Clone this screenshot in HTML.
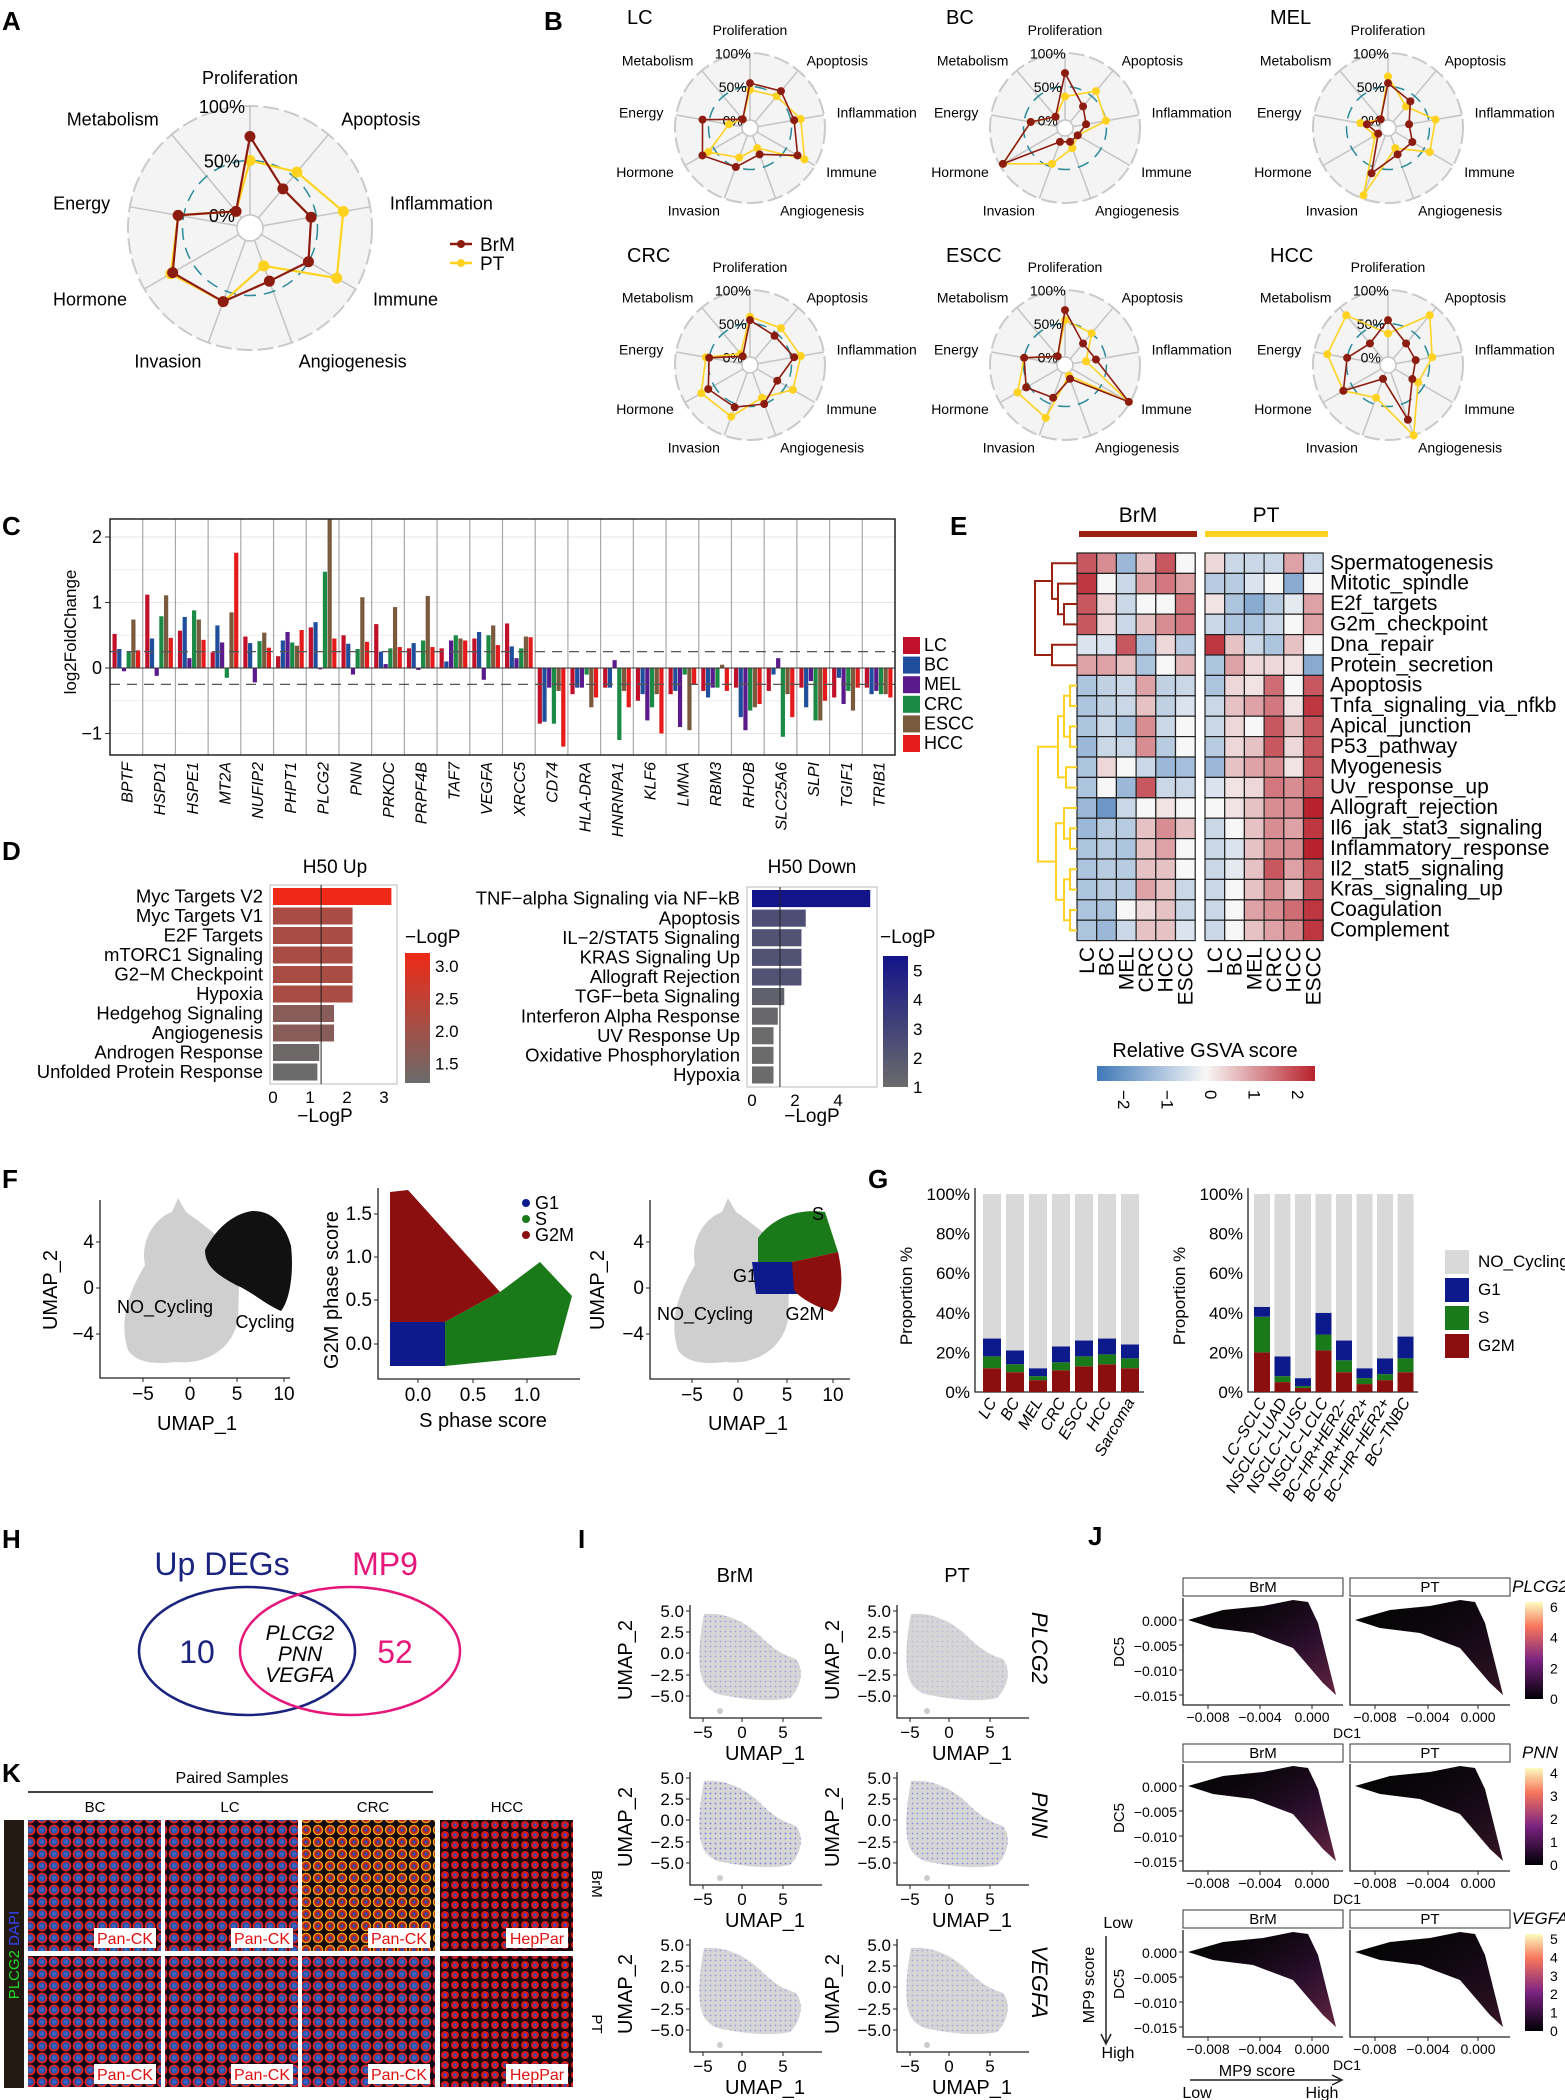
<!DOCTYPE html>
<html><head><meta charset="utf-8">
<style>
body{margin:0;background:#fff;}
svg{display:block;font-family:"Liberation Sans",Arial,sans-serif;}
.n{font-family:"Liberation Sans Narrow","Liberation Sans",sans-serif;}
.pl{font-size:26px;font-weight:bold;}
</style></head>
<body>
<svg id="fig" width="1565" height="2100" viewBox="0 0 1565 2100">
<defs>
<linearGradient id="gsva" x1="0" x2="1" y1="0" y2="0"><stop offset="0" stop-color="#3f78b8"/><stop offset="0.5" stop-color="#f7f7f7"/><stop offset="1" stop-color="#b8222c"/></linearGradient>
<linearGradient id="upbar" x1="0" x2="0" y1="1" y2="0"><stop offset="0" stop-color="#6b6b6b"/><stop offset="1" stop-color="#ee2a16"/></linearGradient>
<linearGradient id="dnbar" x1="0" x2="0" y1="1" y2="0"><stop offset="0" stop-color="#6b6b6b"/><stop offset="1" stop-color="#14148a"/></linearGradient>
<linearGradient id="magma" x1="0" x2="0" y1="1" y2="0"><stop offset="0" stop-color="#000004"/><stop offset="0.4" stop-color="#7b2382"/><stop offset="0.75" stop-color="#f8765c"/><stop offset="1" stop-color="#fcfdbf"/></linearGradient>
<linearGradient id="jfill" x1="0" x2="1" y1="0" y2="1"><stop offset="0" stop-color="#000" stop-opacity="0"/><stop offset="0.6" stop-color="#7b2382" stop-opacity="0.3"/><stop offset="1" stop-color="#e0508a" stop-opacity="0.45"/></linearGradient>
<pattern id="tis" width="12" height="12" patternUnits="userSpaceOnUse"><rect width="12" height="12" fill="#120a1c"/><circle cx="6" cy="6" r="4.6" fill="#2c4fa6" stroke="#e3221c" stroke-width="1.6"/><circle cx="6" cy="6" r="1.8" fill="#3b66c8"/></pattern>
<pattern id="tisY" width="12" height="12" patternUnits="userSpaceOnUse"><rect width="12" height="12" fill="#150a10"/><circle cx="6" cy="6" r="4.6" fill="#b8281c" stroke="#f0a018" stroke-width="1.3"/><circle cx="6" cy="6" r="1.8" fill="#2b4ba8"/></pattern>
<pattern id="hep" width="10" height="10" patternUnits="userSpaceOnUse"><rect width="10" height="10" fill="#1a0810"/><circle cx="5" cy="5" r="4" fill="#d21a1a"/><circle cx="5" cy="5" r="1.6" fill="#3050c0"/></pattern>
<pattern id="bdots" width="5" height="5" patternUnits="userSpaceOnUse"><circle cx="2.5" cy="2.5" r="0.9" fill="#5a5ae0"/></pattern>
</defs>

<text class="pl" x="2" y="30">A</text>
<text class="pl" x="544" y="30">B</text>
<text class="pl" x="2" y="535">C</text>
<text class="pl" x="950" y="535">E</text>
<text class="pl" x="2" y="860">D</text>
<text class="pl" x="2" y="1188">F</text>
<text class="pl" x="868" y="1188">G</text>
<text class="pl" x="2" y="1548">H</text>
<text class="pl" x="578" y="1548">I</text>
<text class="pl" x="1088" y="1545">J</text>
<text class="pl" x="2" y="1782">K</text>

<g class="n" font-size="20">
<text x="627" y="24">LC</text><text x="946" y="24">BC</text><text x="1270" y="24">MEL</text>
<text x="627" y="262">CRC</text><text x="946" y="262">ESCC</text><text x="1270" y="262">HCC</text>
</g>
<g class="n" font-size="19">
<line x1="450" y1="244" x2="472" y2="244" stroke="#8c1c0f" stroke-width="2.5"/><circle cx="461" cy="244" r="4" fill="#8c1c0f"/><text x="480" y="251">BrM</text>
<line x1="450" y1="263" x2="472" y2="263" stroke="#ffd21f" stroke-width="2.5"/><circle cx="461" cy="263" r="4" fill="#ffd21f"/><text x="480" y="270">PT</text>
</g>

<text x="76" y="632" font-size="17" text-anchor="middle" transform="rotate(-90 76 632)">log2FoldChange</text>
<g class="n" font-size="19">
<text x="335" y="873" text-anchor="middle">H50 Up</text>
<text x="812" y="873" text-anchor="middle">H50 Down</text>
<text x="325" y="1122" text-anchor="middle">−LogP</text>
<text x="812" y="1122" text-anchor="middle">−LogP</text>
<text x="405" y="943">−LogP</text>
<text x="880" y="943">−LogP</text>
<text x="330" y="1075" font-size="18">P=0.05</text>
<text x="790" y="1078" font-size="18">P=0.05</text>
</g>
<g class="n">
<text x="1138" y="522" font-size="21" text-anchor="middle">BrM</text>
<text x="1266" y="522" font-size="21" text-anchor="middle">PT</text>
<rect x="1079" y="531" width="118" height="6" fill="#9a2010"/>
<rect x="1205" y="531" width="123" height="6" fill="#ffd21f"/>
<text x="1205" y="1057" font-size="20" text-anchor="middle">Relative GSVA score</text>
<rect x="1097" y="1066" width="218" height="15" fill="url(#gsva)"/>
</g>
<g class="n" font-size="18">
<text x="57" y="1290" text-anchor="middle" transform="rotate(-90 57 1290)" font-size="20">UMAP_2</text>
<text x="197" y="1430" text-anchor="middle" font-size="20">UMAP_1</text>
<text x="338" y="1290" text-anchor="middle" transform="rotate(-90 338 1290)" font-size="20">G2M phase score</text>
<text x="483" y="1427" text-anchor="middle" font-size="20">S phase score</text>
<text x="604" y="1290" text-anchor="middle" transform="rotate(-90 604 1290)" font-size="20">UMAP_2</text>
<text x="748" y="1430" text-anchor="middle" font-size="20">UMAP_1</text>
</g>
<g class="n" font-size="17">
<text x="912" y="1296" text-anchor="middle" transform="rotate(-90 912 1296)">Proportion %</text>
<text x="1185" y="1296" text-anchor="middle" transform="rotate(-90 1185 1296)">Proportion %</text>
<rect x="1445" y="1250" width="24" height="24" fill="#d9d9d9"/><text x="1478" y="1267">NO_Cycling</text>
<rect x="1445" y="1278" width="24" height="24" fill="#0d1a8c"/><text x="1478" y="1295">G1</text>
<rect x="1445" y="1306" width="24" height="24" fill="#1a7a1a"/><text x="1478" y="1323">S</text>
<rect x="1445" y="1334" width="24" height="24" fill="#8b0f0f"/><text x="1478" y="1351">G2M</text>
</g>
<g class="n">
<ellipse cx="247" cy="1651" rx="108" ry="64" fill="none" stroke="#1a237e" stroke-width="2.5"/>
<ellipse cx="350" cy="1651" rx="110" ry="64" fill="none" stroke="#e6177a" stroke-width="2.5"/>
<text x="222" y="1575" font-size="32" fill="#1a237e" text-anchor="middle">Up DEGs</text>
<text x="385" y="1575" font-size="32" fill="#e6177a" text-anchor="middle">MP9</text>
<text x="197" y="1663" font-size="32" fill="#1a237e" text-anchor="middle">10</text>
<text x="395" y="1663" font-size="32" fill="#e6177a" text-anchor="middle">52</text>
<text x="300" y="1640" font-size="21" font-style="italic" text-anchor="middle">PLCG2</text>
<text x="300" y="1661" font-size="21" font-style="italic" text-anchor="middle">PNN</text>
<text x="300" y="1682" font-size="21" font-style="italic" text-anchor="middle">VEGFA</text>
</g>
<g class="n" font-size="20">
<text x="735" y="1582" text-anchor="middle">BrM</text><text x="957" y="1582" text-anchor="middle">PT</text>
</g>
<g class="n">
<text x="232" y="1783" font-size="16" text-anchor="middle">Paired Samples</text>
<line x1="28" y1="1792" x2="433" y2="1792" stroke="#000" stroke-width="1.5"/>
<text x="95" y="1812" font-size="15" text-anchor="middle">BC</text>
<text x="230" y="1812" font-size="15" text-anchor="middle">LC</text>
<text x="373" y="1812" font-size="15" text-anchor="middle">CRC</text>
<text x="507" y="1812" font-size="15" text-anchor="middle">HCC</text>
<rect x="4" y="1820" width="20" height="268" fill="#231a14"/>
<text x="19" y="1955" font-size="15" text-anchor="middle" transform="rotate(-90 19 1955)"><tspan fill="#22dd22">PLCG2</tspan><tspan fill="#3344ff"> DAPI</tspan></text>
<text x="592" y="1884" font-size="15" text-anchor="middle" transform="rotate(90 592 1884)">BrM</text>
<text x="592" y="2024" font-size="15" text-anchor="middle" transform="rotate(90 592 2024)">PT</text>
</g>
</svg>

<script>
const NS='http://www.w3.org/2000/svg';
const svg=document.getElementById('fig');
function mk(tag,attrs,parent){const e=document.createElementNS(NS,tag);for(const k in attrs)e.setAttribute(k,attrs[k]);(parent||svg).appendChild(e);return e;}
function tx(str,x,y,fs,anchor,parent){const e=mk('text',{x:x,y:y,'font-size':fs,'text-anchor':anchor||'start'},parent);e.textContent=str;return e;}

/* ---------- radar data ---------- */
const radarAxes=['Proliferation','Apoptosis','Inflammation','Immune','Angiogenesis','Invasion','Hormone','Energy','Metabolism'];
const aBrM=[0.72,0.35,0.45,0.5,0.4,0.6,0.7,0.55,0.08];
const aPT=[0.5,0.55,0.75,0.8,0.25,0.6,0.72,0.55,0.08];
const lcBrM=[0.55,0.6,0.55,0.7,0.3,0.5,0.7,0.6,0.05];
const lcPT=[0.45,0.5,0.65,0.82,0.2,0.35,0.6,0.2,0.05];
const bcBrM=[0.7,0.3,0.2,0.1,0.1,0.1,0.95,0.4,0.1];
const bcPT=[0.35,0.6,0.5,0.1,0.2,0.45,0.95,0.4,0.1];
const melBrM=[0.55,0.4,0.2,0.3,0.3,0.6,0.05,0.2,0.05];
const melPT=[0.65,0.3,0.6,0.6,0.2,0.95,0.1,0.3,0.05];
const crcBrM=[0.55,0.45,0.55,0.35,0.5,0.55,0.6,0.5,0.05];
const crcPT=[0.6,0.6,0.65,0.62,0.4,0.7,0.72,0.55,0.1];
const esccBrM=[0.7,0.3,0.35,0.98,0.1,0.4,0.55,0.5,0.05];
const esccPT=[0.55,0.5,0.2,0.98,0.05,0.72,0.7,0.5,0.05];
const hccBrM=[0.55,0.3,0.3,0.3,0.75,0.1,0.65,0.5,0.3];
const hccPT=[0.35,0.85,0.55,0.4,1.0,0.4,0.65,0.8,0.85];

function radar(cx,cy,R,r0,brm,pt,fs,dr,nm){
  const g=mk('g',{class:'n'});
  
  
  const bg=mk('circle',{cx:cx,cy:cy,r:R,fill:'#f4f4f4',stroke:'#cacaca','stroke-width':2,'stroke-dasharray':'16 5'},g);
  
  
  const ang=i=>i*Math.PI*2/radarAxes.length;
  const rr=v=>r0+v*(R-r0);
  radarAxes.forEach((a,i)=>{
    const s=Math.sin(ang(i)),c=Math.cos(ang(i));
    const sp=mk('line',{x1:cx+s*r0,y1:cy-c*r0,x2:cx+s*R,y2:cy-c*R,stroke:'#c4c4c4','stroke-width':1.5},g);
    
    
  });
  const ic=mk('circle',{cx:cx,cy:cy,r:r0,fill:'#fff',stroke:'#c4c4c4','stroke-width':1.5},g);
  
  
  const tc=mk('circle',{cx:cx,cy:cy,r:rr(0.5),fill:'none',stroke:'#2a8a9a','stroke-width':1.5,'stroke-dasharray':'12 8'},g);
  
  
  [['100%',1],['50%',0.5],['0%',0]].forEach(p=>{
    const t=tx(p[0],cx-0.23*R,cy-rr(p[1])+fs*0.4,fs,'middle',g);
    
    
  });
  [[pt,'#ffd21f','pt'],[brm,'#8c1c0f','brm']].forEach(S=>{
    const pts=S[0].map((v,i)=>[cx+Math.sin(ang(i))*rr(v),cy-Math.cos(ang(i))*rr(v)]);
    const pg=mk('polygon',{points:pts.map(p=>p.join(',')).join(' '),fill:'none',stroke:S[1],'stroke-width':dr>4?2.2:1.6},g);
    
    
    pts.forEach(p=>{
      const d=mk('circle',{cx:p[0],cy:p[1],r:dr,fill:S[1]},g);
      
      
    });
  });
  radarAxes.forEach((a,i)=>{
    const s=Math.sin(ang(i)),c=Math.cos(ang(i));
    const r=R+(dr>4?20:13);
    let x=cx+s*r,y=cy-c*r+fs*0.35;
    const an=s>0.1?'start':(s<-0.1?'end':'middle');
    if(i===0)y=cy-R-(dr>4?22:18);
    const t=tx(a,x,y,fs,an,g);
    
    
  });
}
radar(250,228,122,13,aBrM,aPT,18,5.5,'radar-a');
radar(750,128,75,8,lcBrM,lcPT,14,4,'radar-lc');
radar(1065,128,75,8,bcBrM,bcPT,14,4,'radar-bc');
radar(1388,128,75,8,melBrM,melPT,14,4,'radar-mel');
radar(750,365,75,8,crcBrM,crcPT,14,4,'radar-crc');
radar(1065,365,75,8,esccBrM,esccPT,14,4,'radar-escc');
radar(1388,365,75,8,hccBrM,hccPT,14,4,'radar-hcc');

/* ---------- C bar chart ---------- */
const genes=['BPTF','HSPD1','HSPE1','MT2A','NUFIP2','PHPT1','PLCG2','PNN','PRKDC','PRPF4B','TAF7','VEGFA','XRCC5','CD74','HLA-DRA','HNRNPA1','KLF6','LMNA','RBM3','RHOB','SLC25A6','SLPI','TGIF1','TRIB1'];
const cancers=['LC','BC','MEL','CRC','ESCC','HCC'];
const lcVals=[0.52,1.12,0.57,0.24,0.48,0.18,0.62,0.5,0.67,0.3,0.3,0.45,0.68,-0.85,-0.4,-0.3,-0.5,-0.4,-0.35,-0.3,-0.35,-0.3,-0.45,-0.3];
const bcVals=[0.29,0.45,0.78,0.65,0.38,0.42,0.7,0.37,0.25,0.38,0.1,0.55,0.33,-0.82,-0.3,-0.3,-0.4,-0.35,-0.45,-0.75,-0.1,-0.6,-0.15,-0.4];
const melVals=[-0.05,-0.12,0.15,0.39,-0.22,0.55,-0.02,-0.1,0.06,-0.03,0.42,-0.18,0.15,-0.3,-0.3,0.12,-0.8,-0.9,-0.3,-0.95,0.15,-0.2,-0.55,-0.35];
const crcVals=[0.26,0.79,0.88,-0.15,0.41,0.39,1.47,0.29,0.3,0.42,0.5,0.5,0.3,-0.85,-0.1,-1.1,-0.6,-0.1,-0.3,-0.65,-1.05,-0.8,-0.35,-0.4];
const esccVals=[0.74,1.11,0.74,0.85,0.54,0.34,2.28,1.08,0.93,1.1,0.45,0.65,0.48,-0.35,-0.6,-0.35,-0.4,-0.95,0.05,-0.6,-0.4,-0.8,-0.65,-0.4];
const hccVals=[0.27,0.46,0.43,1.76,0.31,0.58,0.45,0.4,0.32,0.32,0.42,0.35,0.47,-1.2,-0.45,-0.6,-1.0,-0.25,-0.35,-0.55,-0.75,-0.5,-0.3,-0.45];
const cColors=['#c0102a','#1f4e9c','#5a1a8c','#1a8a45','#7a5a3c','#e51b1b'];
const cTicks=[2,1,0,-1];
(function(){
  const X0=110,X1=895,Y0=519,Y1=755,bw=(X1-X0)/genes.length;
  const y=v=>668-v*65.5;
  const g=mk('g',{});
  
  
  [-0.5,0.5,1.5].forEach(v=>{const l=mk('line',{x1:X0,x2:X1,y1:y(v),y2:y(v),stroke:'#eee'},g);});
  cTicks.forEach(v=>{
    const l=mk('line',{x1:X0,x2:X1,y1:y(v),y2:y(v),stroke:'#e6e6e6'},g);
    
    
    const tk=mk('line',{x1:X0-5,x2:X0,y1:y(v),y2:y(v),stroke:'#333'},g);
    
    
    const t=tx(v<0?'−'+(-v):String(v),X0-8,y(v)+6,18,'end',g);
    
    
  });
  for(let i=1;i<genes.length;i++){const l=mk('line',{x1:X0+i*bw,x2:X0+i*bw,y1:Y0,y2:Y1,stroke:'#a8a8a8','stroke-width':1.2},g);}
  const series=[lcVals,bcVals,melVals,crcVals,esccVals,hccVals];
  genes.forEach((gn,i)=>{
    series.forEach((vals,j)=>{
      const v=vals[i];
      const r=mk('rect',{x:X0+i*bw+2.5+j*4.7,y:Math.min(y(v),y(0)),width:4.2,height:Math.abs(y(v)-y(0)),fill:cColors[j]},g);
      
      
    });
    const cx=X0+(i+0.5)*bw;
    const t=tx(gn,cx+6,762,16,'end',g);
    t.setAttribute('transform','rotate(-90 '+(cx+6)+' 762)');
    t.setAttribute('font-style','italic');
    
    
  });
  const z=mk('line',{x1:X0,x2:X1,y1:y(0),y2:y(0),stroke:'#333','stroke-width':1},g);
  
  
  [0.25,-0.25].forEach(v=>{const l=mk('line',{x1:X0,x2:X1,y1:y(v),y2:y(v),stroke:'#555','stroke-width':1.3,'stroke-dasharray':'10 7'},g);});
  const fr=mk('rect',{x:X0,y:Y0,width:X1-X0,height:Y1-Y0,fill:'none',stroke:'#222','stroke-width':1.5},g);
  
  
  cancers.forEach((c,j)=>{
    const r=mk('rect',{x:903,y:637+j*19.6,width:17,height:17,fill:cColors[j]},g);
    
    
    const t=tx(c,924,651+j*19.6,18,'start',g);
    t.setAttribute('class','n');
    
    
  });
})();

/* ---------- D enrichment bars ---------- */
const upNames=['Myc Targets V2','Myc Targets V1','E2F Targets','mTORC1 Signaling','G2−M Checkpoint','Hypoxia','Hedgehog Signaling','Angiogenesis','Androgen Response','Unfolded Protein Response'];
const upVals=[3.2,2.15,2.15,2.15,2.15,2.15,1.65,1.65,1.25,1.2];
const upTicks=[0,1,2,3];
const upCbTicks=[3.0,2.5,2.0,1.5];
const downNames=['TNF−alpha Signaling via NF−kB','Apoptosis','IL−2/STAT5 Signaling','KRAS Signaling Up','Allograft Rejection','TGF−beta Signaling','Interferon Alpha Response','UV Response Up','Oxidative Phosphorylation','Hypoxia'];
const downVals=[5.5,2.5,2.3,2.3,2.3,1.5,1.2,1.0,1.0,1.0];
const downTicks=[0,2,4];
const downCbTicks=[5,4,3,2,1];
function mixC(a,b,t){const p=s=>[1,3,5].map(k=>parseInt(s.substr(k,2),16));const A=p(a),B=p(b);return 'rgb('+A.map((v,i)=>Math.round(v+(B[i]-v)*t)).join(',')+')';}
function enrich(names,vals,ticks,cbTicks,X0,X1,Y0,Y1,zx,unit,vmin,vmax,hi,cbx,cby0,cby1,nm){
  const g=mk('g',{class:'n'});
  
  
  const x=v=>zx+v*unit;
  const fr=mk('rect',{x:X0,y:Y0,width:X1-X0,height:Y1-Y0,fill:'#fff',stroke:'#bbb'},g);
  
  
  const step=(Y1-Y0-4)/names.length;
  names.forEach((n,i)=>{
    const t=Math.max(0,Math.min(1,(vals[i]-vmin)/(vmax-vmin)));
    const r=mk('rect',{x:x(0),y:Y0+3+i*step,width:x(vals[i])-x(0),height:step-2.5,fill:mixC('#6b6b6b',hi,t)},g);
    
    
    const l=tx(n,X0-7,Y0+3+i*step+step*0.75,18.5,'end',g);
    
    
  });
  const vl=mk('line',{x1:x(1.3),x2:x(1.3),y1:Y0,y2:Y1,stroke:'#222'},g);
  
  
  ticks.forEach(v=>{
    const t=tx(String(v),x(v),Y1+19,17,'middle',g);
    
    
  });
  const cb=mk('rect',{x:cbx,y:cby0,width:25,height:cby1-cby0,fill:hi==='#ee2a16'?'url(#upbar)':'url(#dnbar)'},g);
  
  
  cbTicks.forEach(v=>{
    const yy=cby1-(v-vmin)/(vmax-vmin)*(cby1-cby0);
    const t=tx(cbTicks[0]===3?v.toFixed(1):String(v),cbx+30,yy+6,17,'start',g);
    
    
  });
}
enrich(upNames,upVals,upTicks,upCbTicks,270,397,885,1084,273,37,1.2,3.2,'#ee2a16',405,953,1083,'enrichment-up');
enrich(downNames,downVals,downTicks,downCbTicks,747,877,887,1087,752,21.5,1.0,5.5,'#14148a',883,956,1087,'enrichment-down');

/* ---------- E heatmap ---------- */
const hmRows=['Spermatogenesis','Mitotic_spindle','E2f_targets','G2m_checkpoint','Dna_repair','Protein_secretion','Apoptosis','Tnfa_signaling_via_nfkb','Apical_junction','P53_pathway','Myogenesis','Uv_response_up','Allograft_rejection','Il6_jak_stat3_signaling','Inflammatory_response','Il2_stat5_signaling','Kras_signaling_up','Coagulation','Complement'];
const hmCols=['LC','BC','MEL','CRC','HCC','ESCC'];
const brmScores=[[1.5,1,-1,0.5,1.5,0],[1.8,0,-0.5,0.8,1.2,0.8],[1.5,0.3,-0.5,0,0,1.2],[1.5,0.3,-0.5,0.5,1,1.2],[-0.3,-0.3,1.5,-0.8,0.3,-0.7],[0.8,0.8,0.5,-0.8,0,0.6],[-0.8,-0.6,-0.5,0.8,-0.6,-0.5],[-0.8,-0.6,-0.5,0.5,-0.6,-0.3],[-0.8,-0.5,-0.8,1,-0.5,0],[-1,-0.5,-0.5,1,-0.7,0],[-0.8,0.3,0,-0.5,-1,-0.9],[-0.8,0,-1,1.5,-0.5,-0.5],[-1,-1.5,-0.5,0,0.2,0],[-1,-0.7,-0.7,0.5,1,0.5],[-0.8,-0.7,-0.8,0.5,0.8,0],[-0.8,-0.7,-0.7,0.5,0.5,0],[-0.8,-0.7,-0.7,0.8,0.5,-0.5],[-0.8,-0.8,0,0.3,0.5,-0.5],[-0.8,-1,-0.5,0.5,0.5,-0.3]];
const ptScores=[[0.3,-0.5,-0.5,-0.5,0.8,-0.5],[-0.7,-0.7,-0.3,0,-1.2,0],[0.2,-0.8,-1.2,-0.7,-0.2,0.8],[-0.5,-0.8,-0.8,-0.5,0,0.8],[1.8,0.5,-0.5,-0.8,0.5,0],[-0.8,0.8,0.3,0.3,0.2,-1.2],[-0.8,0.3,0.2,1.3,0,1.5],[-0.5,0.5,0.8,1.2,0.2,1.8],[-0.5,0.3,0,1.5,0.5,1.5],[-0.7,0.3,0.5,1.5,0.3,1.5],[-1,0.5,0.8,1,0.2,1.5],[-0.3,0.2,0.3,1.2,1,1.5],[0,0.2,0.5,1,1,2],[-0.5,0,0.5,1,0.8,1.8],[-0.5,-0.3,0.5,1,1,2.2],[-0.5,-0.2,0.5,1.5,0.8,1.5],[-0.5,0,0.5,1,0.5,1.5],[-0.5,0,0.8,1,1.3,1.8],[-0.5,0,0.5,0.8,1,1.8]];
const gsvaTicks=[-2,-1,0,1,2];
function heatColor(v){v=Math.max(-2,Math.min(2,v));return v<0?mixC('#f7f7f7','#3f78b8',-v/2):mixC('#f7f7f7','#b8222c',v/2);}
(function(){
  const g=mk('g',{class:'n'});
  
  
  const Y0=553,rh=20.4,cw=19.7;
  const blocks=[[1077,brmScores,'brm'],[1205,ptScores,'pt']];
  blocks.forEach(B=>{
    hmRows.forEach((r,i)=>{
      B[1][i].forEach((v,j)=>{
        const c=mk('rect',{x:B[0]+j*cw,y:Y0+i*rh,width:cw,height:rh,fill:heatColor(v),stroke:'#222','stroke-width':1.2},g);
        
        
      });
    });
    hmCols.forEach((c,j)=>{
      const x=B[0]+(j+0.5)*cw+7;
      const t=tx(c,x,947,21,'end',g);
      t.setAttribute('transform','rotate(-90 '+x+' 947)');
      
      
    });
  });
  hmRows.forEach((r,i)=>{
    const t=tx(r,1330,Y0+i*rh+rh*0.8,21,'start',g);
    
    
  });
  const rc=i=>Y0+rh*(i+0.5);
  function link(y1,x1,y2,x2,xj,col){const p=mk('path',{d:'M'+x1+' '+y1+'H'+xj+'V'+y2+'H'+x2,fill:'none',stroke:col,'stroke-width':2},g);return (y1+y2)/2;}
  const R='#9a2010',Yc='#ffd21f',L=1077;
  let a=link(rc(2),L,rc(3),L,1064,R);let b=link(rc(1),L,a,1064,1058,R);let c=link(rc(0),L,b,1058,1052,R);
  let d=link(rc(4),L,rc(5),L,1052,R);link(c,1052,d,1052,1035,R);
  let e1=link(rc(6),L,rc(7),L,1070,Yc);let e2=link(rc(8),L,rc(9),L,1070,Yc);let e=link(e1,1070,e2,1070,1064,Yc);
  let f1=link(rc(10),L,rc(11),L,1066,Yc);let ef=link(e,1064,f1,1066,1058,Yc);
  let h1=link(rc(13),L,rc(14),L,1070,Yc);let h2=link(rc(12),L,h1,1070,1064,Yc);
  let k1=link(rc(15),L,rc(16),L,1070,Yc);let k2=link(rc(17),L,rc(18),L,1070,Yc);let k=link(k1,1070,k2,1070,1064,Yc);
  let hk=link(h2,1064,k,1064,1056,Yc);link(ef,1058,hk,1056,1038,Yc);
  gsvaTicks.forEach((v,i)=>{
    const x=1118+i*43.5;
    const t=tx(v<0?'−'+(-v):String(v),x,1090,17,'start',g);
    t.setAttribute('transform','rotate(90 '+x+' 1090)');
    
    
  });
})();

/* ---------- F UMAP / phase scatter (cell clouds) ---------- */
function axes(x0,x1,y0,y1,xt,yt,nm){
  const g=mk('g',{class:'n'});
  
  
  const p=mk('path',{d:'M'+x0+' '+y0+'V'+y1+'H'+x1,fill:'none',stroke:'#222','stroke-width':1.3},g);
  
  
  xt.forEach(t=>{const l=mk('line',{x1:t[0],x2:t[0],y1:y1,y2:y1+4,stroke:'#222'},g);const s=tx(t[1],t[0],y1+(t[2]||19)+3,t[2]||19,'middle',g);});
  yt.forEach(t=>{const l=mk('line',{x1:x0-4,x2:x0,y1:t[0],y2:t[0],stroke:'#222'},g);const s=tx(t[1],x0-6,t[0]+6,t[2]||19,'end',g);});
  return g;
}
const grayBlob='M128 1350 C118 1320 130 1290 145 1265 C140 1240 155 1218 172 1212 L178 1198 L186 1212 C205 1225 222 1240 240 1255 L238 1320 C232 1350 205 1365 175 1362 C155 1365 135 1362 128 1350 Z';
function cloud(d,fill,tr,nm){const p=mk('path',{d:d,fill:fill,transform:tr||''});return p;}
cloud(grayBlob,'#cfcfcf','','cell-cloud-no-cycling');
cloud('M205 1250 C215 1230 232 1214 252 1211 C272 1210 286 1226 291 1246 C294 1272 290 1300 281 1311 C266 1305 251 1291 236 1285 C220 1276 205 1268 205 1250 Z','#111','','cell-cloud-cycling');
axes(100,290,1200,1378,[[143,'−5'],[190,'0'],[237,'5'],[284,'10']],[[1242,'4'],[1288,'0'],[1334,'−4']],'axes-f1');
cloud('M390 1192 L408 1190 L500 1292 L445 1322 L390 1322 Z','#8b0f0f','','phase-g2m');
cloud('M390 1322 L445 1322 L445 1366 L390 1366 Z','#0d1a8c','','phase-g1');
cloud('M445 1322 L500 1292 L540 1262 L572 1296 L556 1355 L445 1366 Z','#1a7a1a','','phase-s');
axes(378,580,1188,1379,[[418,'0.0'],[473,'0.5'],[527,'1.0']],[[1344,'0.0'],[1300,'0.5'],[1257,'1.0'],[1214,'1.5']],'axes-f2');
cloud(grayBlob,'#cfcfcf','translate(550 0)','cell-cloud-no-cycling-2');
cloud('M758 1238 C772 1218 798 1208 825 1212 L838 1252 L792 1262 L758 1262 Z','#1a7a1a','','cloud-s');
cloud('M752 1262 L792 1262 L800 1294 L756 1294 Z','#0d1a8c','','cloud-g1');
cloud('M792 1262 L838 1252 C844 1278 842 1302 832 1312 C814 1306 800 1298 794 1290 Z','#8b0f0f','','cloud-g2m');
axes(650,850,1200,1379,[[692,'−5'],[738,'0'],[787,'5'],[833,'10']],[[1242,'4'],[1288,'0'],[1334,'−4']],'axes-f3');
(function(){
  const g=mk('g',{class:'n','font-size':18});
  
  
  [['NO_Cycling',165,1313],['Cycling',265,1328],['NO_Cycling',705,1320],['G2M',805,1320],['G1',745,1282],['S',818,1220]].forEach(s=>{const t=tx(s[0],s[1],s[2],18,'middle',g);});
  [['G1','#0d1a8c',1203],['S','#1a7a1a',1219],['G2M','#8b0f0f',1235]].forEach(s=>{const c=mk('circle',{cx:526,cy:s[2],r:4,fill:s[1]},g);const t=tx(s[0],535,s[2]+6,18,'start',g);});
})();

/* ---------- G stacked bars ---------- */
const leftCats=['LC','BC','MEL','CRC','ESCC','HCC','Sarcoma'];
const leftG2M=[12,10,6,11,13,14,12];
const leftS=[6,4,2,4,5,5,5];
const leftG1=[9,7,4,8,8,8,7];
const rightCats=['LC−SCLC','NSCLC−LUAD','NSCLC−LUSC','NSCLC−LCLC','BC−HR+HER2−','BC−HR+HER2+','BC−HR−HER2+','BC−TNBC'];
const rightG2M=[20,5,2,21,10,4,6,10];
const rightS=[18,3,1,8,6,3,3,7];
const rightG1=[5,10,4,11,10,5,8,11];
const pctTicks=[0,20,40,60,80,100];
function stacked(cats,g2m,s,g1,ax,x0,step,bw,nm){
  const g=mk('g',{class:'n'});
  
  
  const y=p=>1392-p*1.98;
  const ax2=mk('path',{d:'M'+ax+' 1188V1392H'+(x0+step*cats.length),fill:'none',stroke:'#222','stroke-width':1.3},g);
  
  
  pctTicks.forEach(p=>{const t=tx(p+'%',ax-5,y(p)+6,17,'end',g);});
  cats.forEach((c,i)=>{
    const x=x0+i*step;
    const segs=[['g2m',g2m[i],'#8b0f0f'],['s',s[i],'#1a7a1a'],['g1',g1[i],'#0d1a8c']];
    let base=0;
    segs.forEach(sg=>{
      const r=mk('rect',{x:x,y:y(base+sg[1]),width:bw,height:sg[1]*1.98,fill:sg[2]},g);
      
      
      base+=sg[1];
    });
    const r=mk('rect',{x:x,y:y(100),width:bw,height:(100-base)*1.98,fill:'#d9d9d9'},g);
    
    
    const cx=x+bw/2+5;
    const t=tx(c,cx,1402,16,'end',g);
    t.setAttribute('transform','rotate(-60 '+cx+' 1402)');
    t.setAttribute('font-style','italic');
    
    
  });
}
stacked(leftCats,leftG2M,leftS,leftG1,975,983,23,18,'stacked-bars-left');
stacked(rightCats,rightG2M,rightS,rightG1,1248,1254,20.5,16,'stacked-bars-right');

/* ---------- I small UMAPs ---------- */
const iGenes=['PLCG2','PNN','VEGFA'];
const iOpacity=[[0.45,0.25],[0.75,0.6],[0.5,0.4]];
const smallBlob='M6 0 C25 -2 45 6 60 20 C72 32 82 40 98 45 C106 55 104 72 92 84 C75 88 50 86 30 82 C12 80 4 72 2 55 C0 40 3 15 6 0 Z';
iGenes.forEach((gn,r)=>{
  [[690,'brm'],[897,'pt']].forEach((c,k)=>{
    const oy=r*167;
    const bx=c[0]+8,by=1614+oy;
    const p=mk('path',{d:smallBlob,fill:'#d6d6d6',transform:'translate('+bx+' '+by+')'});
    
    
    const q=mk('path',{d:smallBlob,fill:'url(#bdots)',opacity:iOpacity[r][k],transform:'translate('+bx+' '+by+')'});
    
    
    const dot=mk('circle',{cx:bx+22,cy:by+97,r:3,fill:'#ccc'});
    
    
    const g=axes(c[0],c[0]+132,1605+oy,1718+oy,[[c[0]+13,'−5',17],[c[0]+52,'0',17],[c[0]+93,'5',17]],[[1611+oy,'5.0',17],[1632+oy,'2.5',17],[1653+oy,'0.0',17],[1675+oy,'−2.5',17],[1696+oy,'−5.0',17]],'axes-i-'+gn+'-'+c[1]);
    const t1=tx('UMAP_1',c[0]+75,1760+oy,20,'middle',g);
    
    
    const yx=c[0]-58;
    const t2=tx('UMAP_2',yx,1660+oy,20,'middle',g);
    t2.setAttribute('transform','rotate(-90 '+yx+' '+(1660+oy)+')');
    
    
  });
  const gx=1032,gy=1648+r*167;
  const t=tx(gn,gx,gy,22,'middle');
  t.setAttribute('transform','rotate(90 '+gx+' '+gy+')');
  t.setAttribute('font-style','italic');
  t.setAttribute('class','n');
  
  
});

/* ---------- J diffusion maps ---------- */
const jGenes=['PLCG2','PNN','VEGFA'];
const jMax=[6,4,5];
const triPts=[[5,22],[40,12],[80,8],[110,2],[125,4],[135,25],[150,85],[153,97],[140,85],[110,50],[70,35],[30,30]];
jGenes.forEach((gn,r)=>{
  const oy=[0,166,332][r];
  [[1183,'BrM'],[1350,'PT']].forEach((c,k)=>{
    const s=mk('rect',{x:c[0],y:1578+oy,width:160,height:18,fill:'#fff',stroke:'#333'});
    
    
    const st=tx(c[1],c[0]+80,1592+oy,15,'middle');
    st.setAttribute('class','n');
    
    
    const pts=triPts.map(p=>(c[0]+p[0])+','+(1598+oy+p[1])).join(' ');
    const t1=mk('polygon',{points:pts,fill:'#050505'});
    
    
    const t2=mk('polygon',{points:pts,fill:'url(#jfill)',opacity:k===0?1:0.5});
    
    
    const xt=k===0?[[1208,'−0.008',14],[1260,'−0.004',14],[1312,'0.000',14]]:[[1375,'−0.008',14],[1428,'−0.004',14],[1478,'0.000',14]];
    const yt=k===0?[[1620+oy,'0.000',14],[1645+oy,'−0.005',14],[1670+oy,'−0.010',14],[1695+oy,'−0.015',14]]:[];
    axes(c[0],c[0]+160,1598+oy,1705+oy,xt,yt,'axes-j-'+gn+'-'+c[1]);
  });
  const d1=tx('DC1',1347,1738+oy,14,'middle');
  d1.setAttribute('class','n');
  
  
  const d5=tx('DC5',1124,1652+oy,15,'middle');
  d5.setAttribute('transform','rotate(-90 1124 '+(1652+oy)+')');
  d5.setAttribute('class','n');
  
  
  const gl=tx(gn,1540,1592+oy,17,'middle');
  gl.setAttribute('font-style','italic');
  gl.setAttribute('class','n');
  
  
  const cb=mk('rect',{x:1525,y:1602+oy,width:18,height:97,fill:'url(#magma)'});
  
  
  for(let v=0;v<=jMax[r];v+=(jMax[r]>5?2:1)){
    const ct=tx(String(v),1550,1699+oy-v/jMax[r]*92+5,14,'start');
    ct.setAttribute('class','n');
    
    
  }
});
(function(){
  const g=mk('g',{class:'n','font-size':16});
  
  
  const a1=mk('path',{d:'M1106 1936V2042M1101 2034L1106 2044L1111 2034',stroke:'#222',fill:'none','stroke-width':1.5},g);
  
  
  const a2=mk('path',{d:'M1190 2080H1340M1332 2075L1342 2080L1332 2085',stroke:'#222',fill:'none','stroke-width':1.5},g);
  
  
  [['Low',1118,1928],['High',1118,2058],['MP9 score',1257,2076],['Low',1197,2098],['High',1322,2098]].forEach(s=>{const t=tx(s[0],s[1],s[2],16,'middle',g);});
  const t=tx('MP9 score',1094,1985,16,'middle',g);
  t.setAttribute('transform','rotate(-90 1094 1985)');
  
  
})();

/* ---------- K images ---------- */
const kCols=[28,165,302,440];
const kRows=[1820,1956];
const kMarkers=['Pan-CK','Pan-CK','Pan-CK','HepPar'];
kRows.forEach((y,r)=>{
  kCols.forEach((x,c)=>{
    const fill=c===3?'url(#hep)':(c===2&&r===0?'url(#tisY)':'url(#tis)');
    const im=mk('rect',{x:x,y:y,width:133,height:131,fill:fill});
    
    
    const lb=mk('rect',{x:x+66,y:y+108,width:62,height:20,fill:'#fff'});
    
    
    const t=tx(kMarkers[c],x+97,y+124,16,'middle');
    t.setAttribute('fill','#e01010');
    t.setAttribute('class','n');
    
    
  });
});
</script>
</body></html>
